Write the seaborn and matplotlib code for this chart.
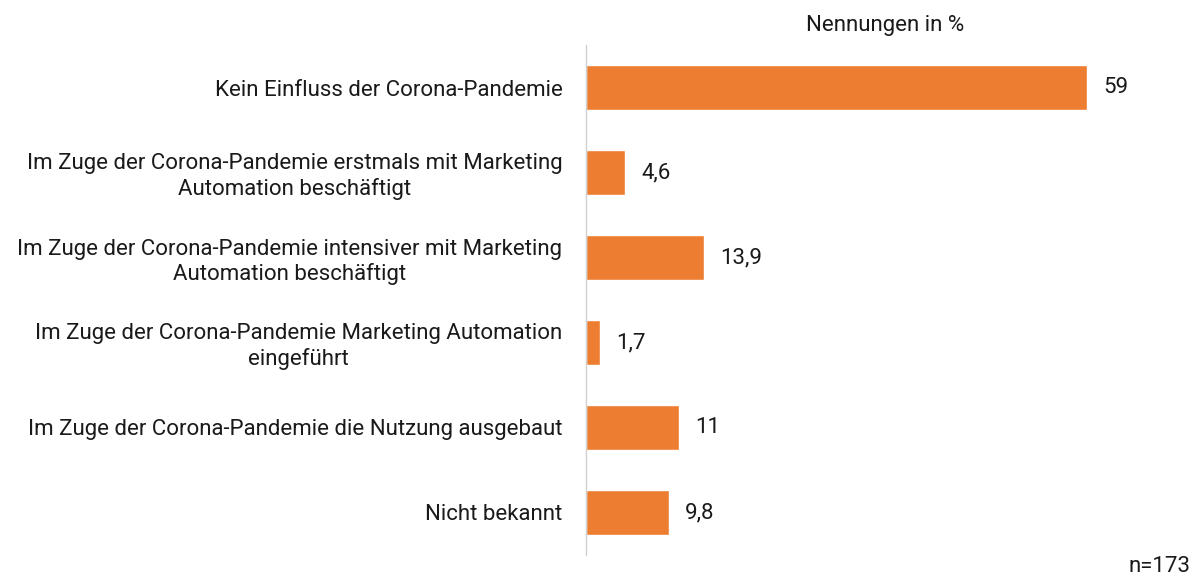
import matplotlib
matplotlib.use("Agg")
import matplotlib.pyplot as plt
import seaborn as sns
import pandas as pd

categories = [
    "Kein Einfluss der Corona-Pandemie",
    "Im Zuge der Corona-Pandemie erstmals mit Marketing\nAutomation beschäftigt",
    "Im Zuge der Corona-Pandemie intensiver mit Marketing\nAutomation beschäftigt",
    "Im Zuge der Corona-Pandemie Marketing Automation\neingeführt",
    "Im Zuge der Corona-Pandemie die Nutzung ausgebaut",
    "Nicht bekannt",
]
values = [59, 4.6, 13.9, 1.7, 11, 9.8]
value_labels = ["59", "4,6", "13,9", "1,7", "11", "9,8"]

sns.set_style("white")
plt.rcParams["font.family"] = ["Roboto", "DejaVu Sans"]

df = pd.DataFrame({"cat": categories, "val": values})

fig = plt.figure(figsize=(12.03, 5.8), dpi=100)
ax = fig.add_axes([586 / 1203, 1 - 555 / 580, (1203 - 586) / 1203, 510 / 580])

sns.barplot(data=df, x="val", y="cat", color="#ED7D31", saturation=1, width=0.53, ax=ax)

ax.set_xlim(0, 72.7)
ax.set_xlabel("")
ax.set_ylabel("")
ax.set_xticks([])
for s in ["top", "right", "bottom"]:
    ax.spines[s].set_visible(False)
ax.spines["left"].set_color("#d0d0d0")
ax.spines["left"].set_linewidth(1)

fs = 16
txt = "#1a1a1a"
ax.tick_params(axis="y", length=0, pad=17)
ax.set_yticks(range(len(categories)))
ax.set_yticklabels(categories, fontsize=fs, color=txt)
for t in ax.get_yticklabels():
    t.set_multialignment("center")

for i, (v, lab) in enumerate(zip(values, value_labels)):
    ax.text(v + 1.9, i, lab, va="center", ha="left", fontsize=fs, color=txt)

fig.text(885 / 1203, 1 - 25 / 580, "Nennungen in %", ha="center", va="center", fontsize=fs, color=txt)
fig.text(1160 / 1203, 1 - 566 / 580, "n=173", ha="center", va="center", fontsize=fs, color=txt)

fig.savefig("out.png", dpi=100)
